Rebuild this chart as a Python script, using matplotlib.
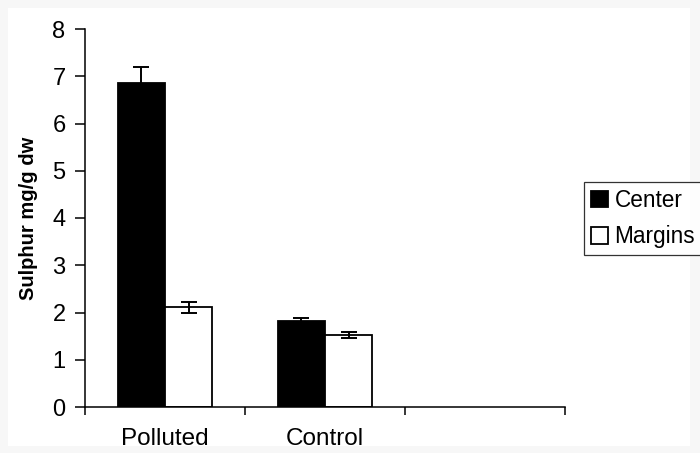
import matplotlib
matplotlib.use("Agg")
import matplotlib.pyplot as plt
import matplotlib.patches as mpatches
import numpy as np

# data
categories = ["Polluted", "Control", ""]
center = [6.85, 1.82]
center_err = [0.35, 0.07]
margins = [2.11, 1.53]
margins_err = [0.11, 0.06]
y_ticks = [0, 1, 2, 3, 4, 5, 6, 7, 8]

plt.rcParams['font.family'] = ['Liberation Sans', 'DejaVu Sans']

fig = plt.figure(figsize=(7.0, 4.53), dpi=100, facecolor='#f7f7f7')
# white canvas inside the light grey border
fig.patches.append(mpatches.Rectangle((8 / 700, 7 / 453), 682 / 700, 438 / 453,
                                      transform=fig.transFigure, facecolor='white',
                                      edgecolor='none', zorder=-5))

ax = fig.add_axes([85 / 700, 46 / 453, 480 / 700, 378 / 453])
ax.set_facecolor('white')

x = np.arange(len(center))
w = 0.295
ax.bar(x - w / 2, center, width=w, color='black', edgecolor='black', linewidth=1.3,
       label='Center', zorder=2)
ax.bar(x + w / 2, margins, width=w, color='white', edgecolor='black', linewidth=1.3,
       label='Margins', zorder=2)
ax.errorbar(x - w / 2, center, yerr=center_err, fmt='none', ecolor='black',
            elinewidth=1.4, capsize=6, capthick=1.4, zorder=3)
ax.errorbar(x + w / 2, margins, yerr=margins_err, fmt='none', ecolor='black',
            elinewidth=1.4, capsize=6, capthick=1.4, zorder=3)

ax.set_xlim(-0.5, 2.5)
ax.set_ylim(0, 8)
ax.set_yticks(y_ticks)
ax.set_xticks([-0.5, 0.5, 1.5, 2.5], minor=False)
ax.set_xticklabels([])
ax.set_xticks(np.arange(len(categories)), minor=True)
ax.set_xticklabels(categories, minor=True)
ax.tick_params(axis='x', which='minor', length=0, pad=15, labelsize=17.5)
ax.tick_params(axis='x', which='major', direction='out', length=6, width=1.1)
ax.tick_params(axis='y', direction='out', length=7, width=1.1, labelsize=17, pad=7)

for s in ['top', 'right']:
    ax.spines[s].set_visible(False)
for s in ['left', 'bottom']:
    ax.spines[s].set_linewidth(1.1)

ax.set_ylabel('Sulphur mg/g dw', fontsize=14.5, fontweight='bold', labelpad=10)

# legend box runs past the right edge of the picture, as in the reference
leg = ax.legend(loc='upper left', bbox_to_anchor=(584 / 700, 198 / 453, 160 / 700, 73 / 453),
                bbox_transform=fig.transFigure, mode='expand', frameon=True, fancybox=False,
                fontsize=16.3, handlelength=0.75, handleheight=0.75, handletextpad=0.3,
                borderpad=0.3, labelspacing=0.6, borderaxespad=0)
leg.get_frame().set_edgecolor('black')
leg.get_frame().set_linewidth(0.9)

fig.savefig('out.png', dpi=100, facecolor=fig.get_facecolor())
